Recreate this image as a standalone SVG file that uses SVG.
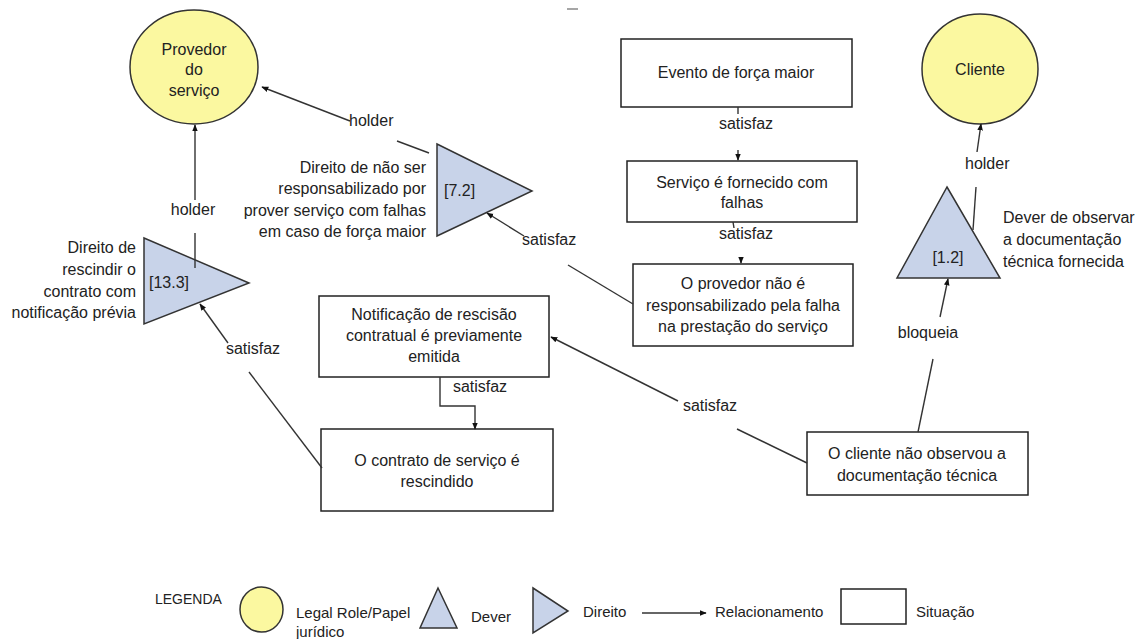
<svg xmlns="http://www.w3.org/2000/svg" width="1136" height="639" viewBox="0 0 1136 639">
<defs>
<marker id="ah" viewBox="0 0 10 10" refX="9" refY="5" markerWidth="7" markerHeight="7" orient="auto" markerUnits="userSpaceOnUse">
<path d="M0,1 L10,5 L0,9 z" fill="#111"/>
</marker>
<style>
text{font-family:"Liberation Sans",Arial,sans-serif;font-size:16px;fill:#222}
.c{text-anchor:middle}
.r{text-anchor:end}
.role{fill:#fbf8a0;stroke:#333;stroke-width:1.5}
.norm{fill:#c8d3e9;stroke:#333;stroke-width:1.5}
.sit{fill:#fff;stroke:#222;stroke-width:1.5}
.ln{fill:none;stroke:#333;stroke-width:1.4}
.lg{font-size:15px}
</style>
</defs>
<rect width="1136" height="639" fill="#fff"/>
<line x1="567" y1="9" x2="578" y2="9" stroke="#888" stroke-width="1.5"/>

<g id="provedor">
<ellipse class="role" cx="194" cy="67" rx="64" ry="57"/>
<text class="c" x="194" y="55">Provedor</text>
<text class="c" x="194" y="75">do</text>
<text class="c" x="194" y="96">serviço</text>
</g>
<g id="cliente">
<ellipse class="role" cx="980" cy="69" rx="58" ry="55"/>
<text class="c" x="980" y="75">Cliente</text>
</g>
<g id="direito133">
<polygon class="norm" points="144,238 249,283 144,324"/>
<text x="149" y="288">[13.3]</text>
<text class="r" x="136" y="253">Direito de</text>
<text class="r" x="136" y="275">rescindir o</text>
<text class="r" x="136" y="297">contrato com</text>
<text class="r" x="136" y="318">notificação prévia</text>
</g>
<g id="direito72">
<polygon class="norm" points="437,144 532,191 437,236"/>
<text x="444" y="196">[7.2]</text>
<text class="r" x="426" y="173">Direito de não ser</text>
<text class="r" x="426" y="194">responsabilizado por</text>
<text class="r" x="426" y="216">prover serviço com falhas</text>
<text class="r" x="426" y="237">em caso de força maior</text>
</g>
<g id="dever12">
<polygon class="norm" points="947,187 1000,278 897,278"/>
<text class="c" x="948" y="263">[1.2]</text>
<text x="1003" y="223">Dever de observar</text>
<text x="1003" y="245">a documentação</text>
<text x="1003" y="267">técnica fornecida</text>
</g>
<g id="evento">
<rect class="sit" x="621" y="39" width="231" height="68"/>
<text class="c" x="736" y="78">Evento de força maior</text>
</g>
<g id="servico">
<rect class="sit" x="627" y="161" width="230" height="61"/>
<text class="c" x="742" y="188">Serviço é fornecido com</text>
<text class="c" x="742" y="208">falhas</text>
</g>
<g id="provedorNao">
<rect class="sit" x="633" y="264" width="220" height="82"/>
<text class="c" x="743" y="289">O provedor não é</text>
<text class="c" x="743" y="311">responsabilizado pela falha</text>
<text class="c" x="743" y="332">na prestação do serviço</text>
</g>
<g id="notificacao">
<rect class="sit" x="319" y="296" width="230" height="81"/>
<text class="c" x="434" y="320">Notificação de rescisão</text>
<text class="c" x="434" y="341">contratual é previamente</text>
<text class="c" x="434" y="362">emitida</text>
</g>
<g id="contrato">
<rect class="sit" x="321" y="429" width="232" height="82"/>
<text class="c" x="437" y="466">O contrato de serviço é</text>
<text class="c" x="437" y="487">rescindido</text>
</g>
<g id="clienteNao">
<rect class="sit" x="807" y="432" width="221" height="63"/>
<text class="c" x="917" y="459">O cliente não observou a</text>
<text class="c" x="917" y="481">documentação técnica</text>
</g>

<g id="connectors">
<line class="ln" x1="195" y1="268" x2="195" y2="233"/>
<line class="ln" x1="195" y1="200" x2="195" y2="125" marker-end="url(#ah)"/>
<text class="c" x="193" y="215">holder</text>

<line class="ln" x1="429" y1="153" x2="397" y2="141"/>
<line class="ln" x1="350" y1="121" x2="262" y2="87" marker-end="url(#ah)"/>
<text x="349" y="126">holder</text>

<line class="ln" x1="633" y1="304" x2="568" y2="265"/>
<line class="ln" x1="524" y1="236" x2="487" y2="213" marker-end="url(#ah)"/>
<text x="522" y="245">satisfaz</text>

<line class="ln" x1="738" y1="107" x2="738" y2="114"/>
<line class="ln" x1="738" y1="150" x2="738" y2="160" marker-end="url(#ah)"/>
<text class="c" x="746" y="129">satisfaz</text>

<line class="ln" x1="733" y1="222" x2="734" y2="228"/>
<line class="ln" x1="741" y1="258" x2="741" y2="263" marker-end="url(#ah)"/>
<text class="c" x="746" y="239">satisfaz</text>

<line class="ln" x1="973" y1="230" x2="976" y2="187"/>
<line class="ln" x1="977" y1="152" x2="981" y2="124" marker-end="url(#ah)"/>
<text x="965" y="169">holder</text>

<line class="ln" x1="918" y1="432" x2="933" y2="359"/>
<line class="ln" x1="940" y1="317" x2="948" y2="279" marker-end="url(#ah)"/>
<text class="c" x="928" y="338">bloqueia</text>

<line class="ln" x1="807" y1="463" x2="737" y2="429"/>
<line class="ln" x1="678" y1="401" x2="551" y2="337" marker-end="url(#ah)"/>
<text class="c" x="710" y="411">satisfaz</text>

<polyline class="ln" points="440,377 440,406 475,406 475,429" marker-end="url(#ah)"/>
<text class="c" x="480" y="392">satisfaz</text>

<line class="ln" x1="322" y1="468" x2="249" y2="372"/>
<line class="ln" x1="228" y1="343" x2="200" y2="304" marker-end="url(#ah)"/>
<text class="c" x="253" y="354">satisfaz</text>
</g>

<g id="legenda">
<text class="lg" x="155" y="604" style="font-size:14px">LEGENDA</text>
<ellipse class="role" cx="261.5" cy="609.5" rx="21.5" ry="22.5"/>
<text class="lg" x="296" y="618">Legal Role/Papel</text>
<text class="lg" x="296" y="637">jurídico</text>
<polygon class="norm" points="438,588 457,628 420,628"/>
<text class="lg" x="471" y="622">Dever</text>
<polygon class="norm" points="533,588 568,611 533,633"/>
<text class="lg" x="583" y="617">Direito</text>
<line class="ln" x1="642" y1="613" x2="706" y2="613" marker-end="url(#ah)"/>
<text class="lg" x="715" y="617">Relacionamento</text>
<rect class="sit" x="841" y="589" width="65" height="35"/>
<text class="lg" x="916" y="617">Situação</text>
</g>
</svg>
